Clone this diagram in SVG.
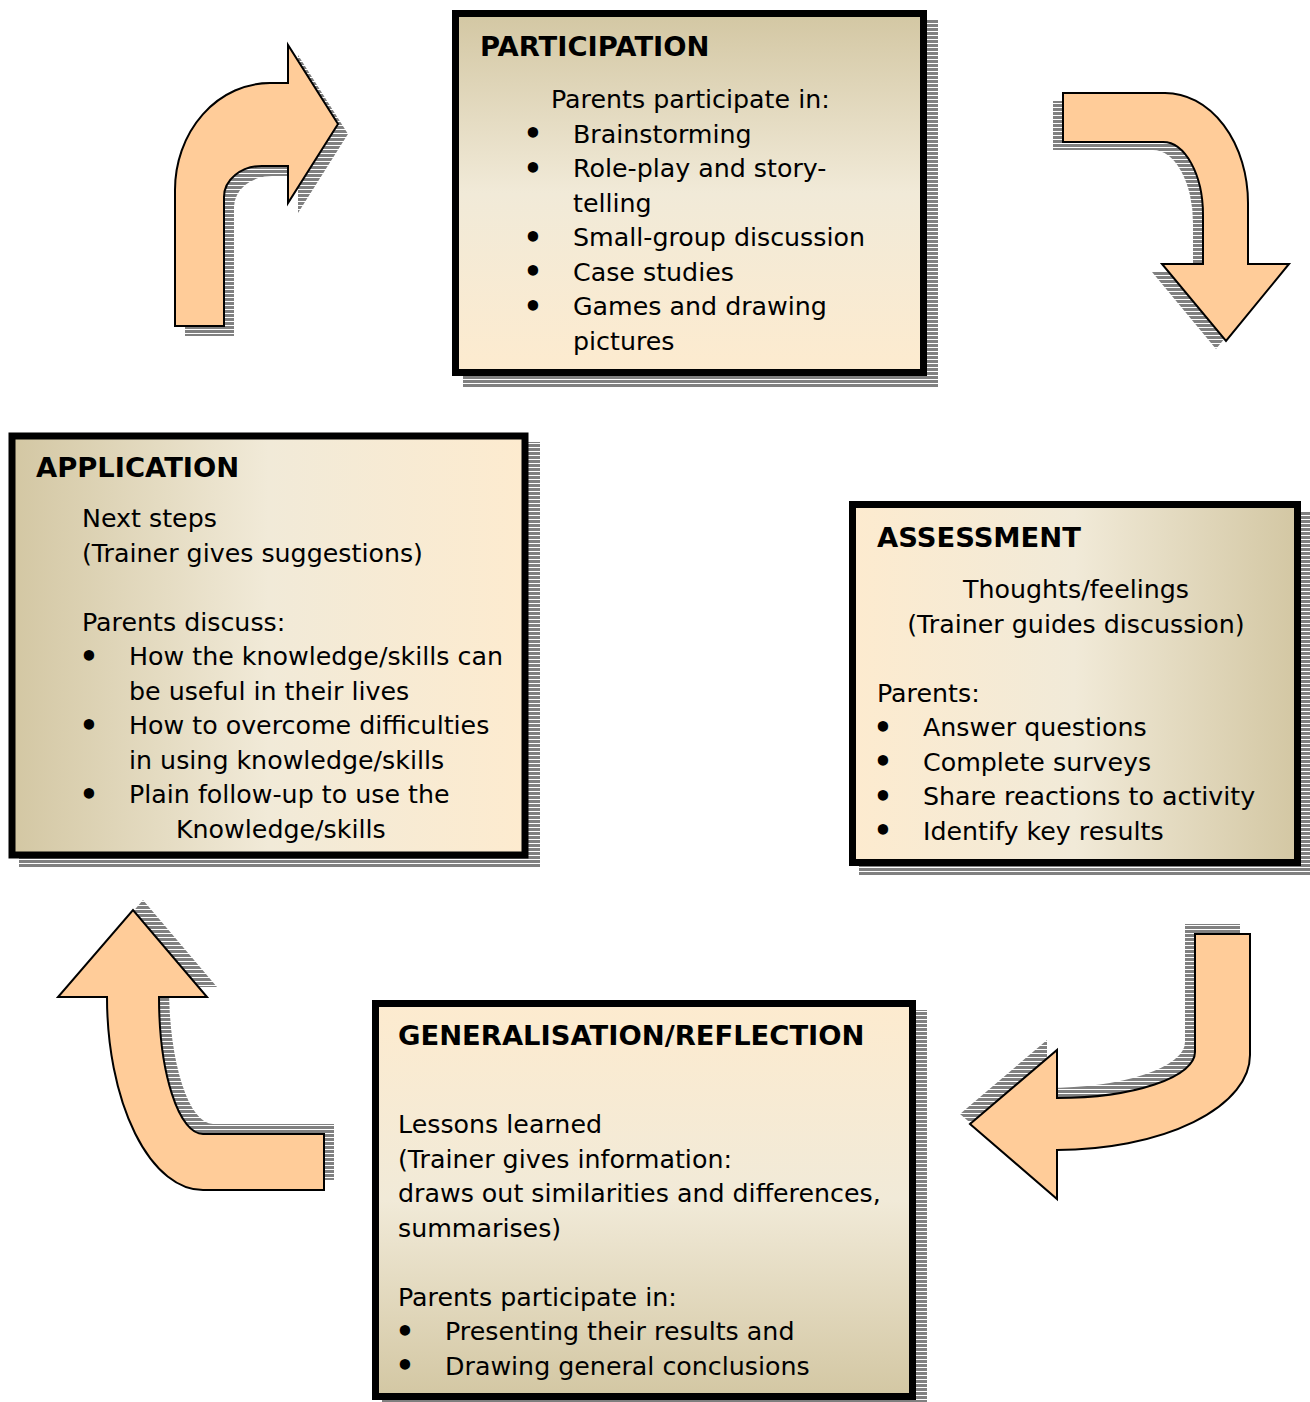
<svg xmlns="http://www.w3.org/2000/svg" width="1310" height="1402" viewBox="0 0 1310 1402">
<style>
  .t { font-family: "DejaVu Sans", Verdana, sans-serif; font-size: 25.3px; fill: #000; }
  .h { font-family: "DejaVu Sans", Verdana, sans-serif; font-size: 27.4px; font-weight: bold; fill: #000; }
  .box { stroke: #000; stroke-width: 7; }
  .shadow { fill: url(#stripes); }
  .arrow { fill: #ffcc99; stroke: #000; stroke-width: 2; stroke-linejoin: miter; }
  .bul { font-family: "DejaVu Sans", Verdana, sans-serif; font-size: 29.5px; font-weight: bold; fill: #000; text-anchor: middle; }
</style>
<defs>
  <pattern id="stripes" patternUnits="userSpaceOnUse" width="8" height="4">
    <rect x="0" y="0" width="8" height="4" fill="#ffffff"/>
    <rect x="0" y="0" width="8" height="3" fill="#808080"/>
  </pattern>
  <linearGradient id="gV" x1="0" y1="0" x2="0" y2="1">
    <stop offset="0" stop-color="#d3c7a3"/>
    <stop offset="0.5" stop-color="#f1ead8"/>
    <stop offset="1" stop-color="#fdebcf"/>
  </linearGradient>
  <linearGradient id="gVr" x1="0" y1="1" x2="0" y2="0">
    <stop offset="0" stop-color="#d3c7a3"/>
    <stop offset="0.5" stop-color="#f1ead8"/>
    <stop offset="1" stop-color="#fdebcf"/>
  </linearGradient>
  <linearGradient id="gH" x1="0" y1="0" x2="1" y2="0">
    <stop offset="0" stop-color="#d3c7a3"/>
    <stop offset="0.5" stop-color="#f1ead8"/>
    <stop offset="1" stop-color="#fdebcf"/>
  </linearGradient>
  <linearGradient id="gHr" x1="1" y1="0" x2="0" y2="0">
    <stop offset="0" stop-color="#d3c7a3"/>
    <stop offset="0.5" stop-color="#f1ead8"/>
    <stop offset="1" stop-color="#fdebcf"/>
  </linearGradient>
</defs>
<rect width="1310" height="1402" fill="#ffffff"/>

<g id="connectors">
  <g id="arrow-app-to-part">
    <path class="shadow" transform="translate(10,10)" d="M175,326 L175,190 A95,107 0 0 1 270,83 L288,83 L288,45 L338,124 L288,203 L288,166 L262,166 A38,31 0 0 0 224,197 L224,326 Z"/>
    <path class="arrow" d="M175,326 L175,190 A95,107 0 0 1 270,83 L288,83 L288,45 L338,124 L288,203 L288,166 L262,166 A38,31 0 0 0 224,197 L224,326 Z"/>
  </g>
  <g id="arrow-part-to-assess">
    <path class="shadow" transform="translate(-10,8)" d="M1063,93 L1165,93 A83,110 0 0 1 1248,203 L1248,264 L1289,264 L1226,341 L1162,264 L1203,264 L1203,215 A40,73 0 0 0 1163,142 L1063,142 Z"/>
    <path class="arrow" d="M1063,93 L1165,93 A83,110 0 0 1 1248,203 L1248,264 L1289,264 L1226,341 L1162,264 L1203,264 L1203,215 A40,73 0 0 0 1163,142 L1063,142 Z"/>
  </g>
  <g id="arrow-assess-to-gen">
    <path class="shadow" transform="translate(-10,-10)" d="M1195,934 L1250,934 L1250,1055 A193,95 0 0 1 1057,1150 L1057,1199 L970,1124 L1057,1050 L1057,1098 A138,46 0 0 0 1195,1052 Z"/>
    <path class="arrow" d="M1195,934 L1250,934 L1250,1055 A193,95 0 0 1 1057,1150 L1057,1199 L970,1124 L1057,1050 L1057,1098 A138,46 0 0 0 1195,1052 Z"/>
  </g>
  <g id="arrow-gen-to-app">
    <path class="shadow" transform="translate(10,-10)" d="M324,1134 L324,1190 L203,1190 A96,193 0 0 1 107,997 L58,997 L133,910 L207,997 L159,997 A44,137 0 0 0 203,1134 Z"/>
    <path class="arrow" d="M324,1134 L324,1190 L203,1190 A96,193 0 0 1 107,997 L58,997 L133,910 L207,997 L159,997 A44,137 0 0 0 203,1134 Z"/>
  </g>
</g>

<g id="participation">
  <rect class="shadow" x="463" y="20" width="475" height="367"/>
  <rect class="box" x="455.5" y="13.5" width="468" height="359" fill="url(#gV)"/>
  <text class="h" x="480" y="56">PARTICIPATION</text>
  <text class="t" x="551" y="108">Parents participate in:</text>
  <text class="bul" x="533" y="144">•</text>
  <text class="t" x="573" y="142.5">Brainstorming</text>
  <text class="bul" x="533" y="178.5">•</text>
  <text class="t" x="573" y="177">Role-play and story-</text>
  <text class="t" x="573" y="211.5">telling</text>
  <text class="bul" x="533" y="247.5">•</text>
  <text class="t" x="573" y="246">Small-group discussion</text>
  <text class="bul" x="533" y="282">•</text>
  <text class="t" x="573" y="280.5">Case studies</text>
  <text class="bul" x="533" y="316.5">•</text>
  <text class="t" x="573" y="315">Games and drawing</text>
  <text class="t" x="573" y="349.5">pictures</text>
</g>

<g id="application">
  <rect class="shadow" x="19" y="442" width="521" height="426"/>
  <rect class="box" x="12" y="436" width="513" height="419" fill="url(#gH)"/>
  <text class="h" x="36" y="477">APPLICATION</text>
  <text class="t" x="82" y="527">Next steps</text>
  <text class="t" x="82" y="561.5">(Trainer gives suggestions)</text>
  <text class="t" x="82" y="630.5">Parents discuss:</text>
  <text class="bul" x="89" y="666.5">•</text>
  <text class="t" x="129" y="665">How the knowledge/skills can</text>
  <text class="t" x="129" y="699.5">be useful in their lives</text>
  <text class="bul" x="89" y="735.5">•</text>
  <text class="t" x="129" y="734">How to overcome difficulties</text>
  <text class="t" x="129" y="768.5">in using knowledge/skills</text>
  <text class="bul" x="89" y="804.5">•</text>
  <text class="t" x="129" y="803">Plain follow-up to use the</text>
  <text class="t" x="176" y="837.5">Knowledge/skills</text>
</g>

<g id="assessment">
  <rect class="shadow" x="859" y="511" width="451" height="365"/>
  <rect class="box" x="852.5" y="504.5" width="445" height="358" fill="url(#gHr)"/>
  <text class="h" x="877" y="547">ASSESSMENT</text>
  <text class="t" x="1076" y="598" text-anchor="middle">Thoughts/feelings</text>
  <text class="t" x="1076" y="632.5" text-anchor="middle">(Trainer guides discussion)</text>
  <text class="t" x="877" y="701.5">Parents:</text>
  <text class="bul" x="883" y="737.5">•</text>
  <text class="t" x="923" y="736">Answer questions</text>
  <text class="bul" x="883" y="772">•</text>
  <text class="t" x="923" y="770.5">Complete surveys</text>
  <text class="bul" x="883" y="806.5">•</text>
  <text class="t" x="923" y="805">Share reactions to activity</text>
  <text class="bul" x="883" y="841">•</text>
  <text class="t" x="923" y="839.5">Identify key results</text>
</g>

<g id="generalisation">
  <rect class="shadow" x="382" y="1010" width="545" height="400"/>
  <rect class="box" x="375.5" y="1003.5" width="537" height="393" fill="url(#gVr)"/>
  <text class="h" x="398" y="1045">GENERALISATION/REFLECTION</text>
  <text class="t" x="398" y="1133">Lessons learned</text>
  <text class="t" x="398" y="1167.5">(Trainer gives information:</text>
  <text class="t" x="398" y="1202">draws out similarities and differences,</text>
  <text class="t" x="398" y="1236.5">summarises)</text>
  <text class="t" x="398" y="1305.5">Parents participate in:</text>
  <text class="bul" x="405" y="1341.5">•</text>
  <text class="t" x="445" y="1340">Presenting their results and</text>
  <text class="bul" x="405" y="1376">•</text>
  <text class="t" x="445" y="1374.5">Drawing general conclusions</text>
</g>
</svg>
